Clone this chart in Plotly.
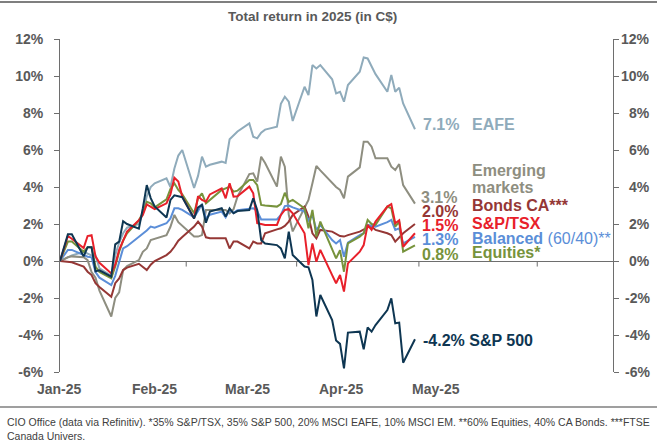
import pandas as pd
import plotly.graph_objects as go

# ---------------- data (total return %, in C$) ----------------
dates = ["2024-12-31"] + [d.strftime("%Y-%m-%d") for d in pd.bdate_range("2025-01-02", "2025-03-31")]

eafe = [0, 0.2, 0.3, 0.5, 0.4, 0.3, 0.3, -0.4, -0.8, 0.3, 1.0, 1.5, 1.8, 2.0, 2.6, 3.5, 4.0, 4.2, 4.47, 4.0, 5.0, 5.7, 6.0,
        3.95, 4.6, 5.64, 5.1, 5.2, 5.37, 5.3, 6.58, 6.8, 7.0, 7.44, 6.72, 6.63, 6.94, 7.1, 7.26, 8.5, 8.88, 8.61, 7.57,
        9.42, 8.97, 10.59, 10.41, 10.59, 9.82, 9.06, 9.15, 8.61, 9.51, 10.23, 11.0, 10.95, 10.5, 10.1, 9.15, 10.05, 9.15, 9.37, 8.52, 7.12]
em = [0, 0.2, 0.25, 0.2, 0.05, -0.6, -0.9, -1.6, -3.0, -2.0, -1.7, -0.5, -0.27, 0.05, 0.5, 0.68, 1.13, 1.2, 1.4, 1.85, 2.49, 2.1, 1.9,
      1.32, 1.32, 1.4, 2.76, 2.76, 2.8, 2.76, 2.58, 2.8, 3.48, 4.7, 4.74, 4.29, 5.64, 5.3, 4.02, 5.64, 5.1, 2.5, 1.6,
      2.9, 3.3, 4.2, 5.14, 4.9, 4.23, 4.0, 3.84, 3.39, 4.56, 5.06, 6.45, 6.45, 6.18, 5.55, 5.55, 5.1, 4.92, 5.24, 4.1, 3.1]
bonds = [0, -0.07, -0.07, -0.3, -0.58, -0.76, -1.2, -1.4, -1.93, -1.2, -0.94, -0.49, -0.36, -0.15, -0.3, -0.49, -0.2, 0.0, 0.32, 0.5, 0.77, 1.1, 1.3,
         1.86, 2.13, 1.86, 1.28, 1.23, 1.23, 1.23, 0.68, 1.05, 1.05, 0.68, 1.05, 0.95, 0.95, 1.5, 1.71, 1.77, 1.9, 2.13, 2.49,
         2.94, 2.4, 1.5, 1.23, 1.68, 1.59, 1.45, 1.35, 1.32, 1.4, 1.59, 1.7, 1.82, 1.86, 1.68, 1.5, 1.4, 1.05, 1.3, 1.5, 2.0]
balanced = [0, 0.6, 0.6, 0.3, 0.23, 0.2, -0.6, -0.9, -1.3, -0.8, -0.1, 0.68, 0.8, 1.3, 1.5, 1.65, 1.86, 1.8, 2.04, 2.3, 2.85, 2.85, 2.76,
            2.36, 2.7, 3.08, 2.3, 2.5, 2.67, 2.36, 2.76, 2.6, 2.75, 2.85, 2.85, 2.7, 2.25, 2.25, 2.25, 2.49, 2.97, 3.0, 2.9,
            2.67, 2.2, 2.49, 1.68, 1.95, 1.13, 0.95, 1.13, 0.23, 0.99, 1.4, 1.5, 1.95, 1.9, 1.86, 2.1, 2.22, 1.68, 1.77, 0.95, 1.3]
equities = [0, 1.05, 1.05, 0.5, 0.74, 0.74, -0.3, -0.6, -0.94, -0.3, 0.5, 1.1, 1.5, 2.2, 2.6, 3.2, 3.12, 2.9, 3.33, 3.9, 4.2, 3.84, 3.6,
            2.58, 3.39, 3.66, 3.12, 3.3, 3.84, 3.93, 4.02, 3.75, 3.8, 4.38, 4.38, 4.1, 3.03, 3.0, 2.94, 3.08, 3.69, 3.2, 3.3,
            2.85, 1.77, 2.76, 1.32, 2.13, 0.68, 0.14, 0.59, -0.58, 0.95, 1.32, 1.5, 2.22, 2.0, 1.95, 2.94, 2.85, 1.86, 2.13, 0.5, 0.85]
tsx = [0, 1.35, 1.2, 0.7, 1.35, 1.4, 0.25, -0.1, -0.67, -0.2, 0.6, 1.15, 1.59, 2.2, 2.49, 3.06, 2.94, 2.8, 3.12, 3.6, 4.5, 4.3, 3.48,
       2.3, 3.5, 3.3, 3.2, 3.6, 3.93, 3.39, 4.2, 3.48, 3.5, 4.02, 3.66, 2.04, 2.0, 1.95, 1.95, 2.49, 2.76, 2.8, 2.58,
       1.5, -0.22, 0.95, -0.04, 0.6, -0.76, -1.2, -0.76, -1.65, -0.13, 0.5, 0.86, 1.95, 1.68, 2.13, 2.94, 3.08, 2.04, 2.2, 0.77, 1.5]
sp500 = [0, 1.45, 1.45, 0.25, 0.75, 0.75, -0.55, -0.5, -0.85, 0.9, 1.05, 2.15, 2.0, 1.75, 2.85, 4.1, 3.4, 2.95, 2.35, 3.3, 3.55, 3.5, 3.45,
         2.3, 2.9, 3.03, 2.07, 2.67, 2.85, 2.4, 2.85, 2.58, 2.7, 2.76, 3.39, 2.76, 1.14, 0.95, 0.86, 0.68, 0.14, 1.59, 0.32,
         -0.3, -0.34, -1.03, -3.0, -1.84, -3.19, -4.3, -4.48, -5.8, -3.87, -3.82, -4.77, -3.59, -3.82, -3.46, -2.65, -2.02, -3.37, -3.33, -5.5, -4.23]

series_names = ["EAFE", "Emerging markets", "Bonds CA***", "Balanced (60/40)**", "Equities*", "S&P/TSX", "S&P 500"]
series_values = [eafe, em, bonds, balanced, equities, tsx, sp500]
series_colors = ["#8FABBB", "#8E8E80", "#953735", "#5B8ED8", "#77933C", "#E8202A", "#0E3652"]

y_ticks = [-6, -4, -2, 0, 2, 4, 6, 8, 10, 12]
y_ticktext = ["-6%", "-4%", "-2%", "0%", "2%", "4%", "6%", "8%", "10%", "12%"]
month_ticks = ["2025-02-01", "2025-03-01", "2025-04-01", "2025-05-01"]
month_labels = ["Jan-25", "Feb-25", "Mar-25", "Apr-25", "May-25"]

# ---------------- layout helpers ----------------
W, H = 657, 441
L, R, T, B = 60, 44, 39, 69
PW, PH = W - L - R, H - T - B


def pxx(px):
    return (px - L) / PW


def pxy(py):
    return (H - B - py) / PH


FONT = "Liberation Sans, Arial, sans-serif"
GREY = "#595959"
AXIS = "#6E6E6E"

fig = go.Figure()
for name, vals, col in zip(series_names, series_values, series_colors):
    fig.add_trace(go.Scatter(x=dates, y=vals, mode="lines", name=name,
                             line=dict(color=col, width=2), showlegend=False))

fig.update_layout(
    width=W, height=H,
    margin=dict(l=L, r=R, t=T, b=B, pad=0),
    paper_bgcolor="white", plot_bgcolor="white",
    xaxis=dict(type="date", range=["2024-12-31", "2025-05-20 05:00"], showgrid=False, zeroline=False,
               showline=False, showticklabels=False, ticks="", automargin=False),
    yaxis=dict(range=[-6, 12], showgrid=False,
               zeroline=True, zerolinecolor=AXIS, zerolinewidth=1,
               showline=True, linecolor=AXIS, linewidth=1, mirror="ticks",
               tickmode="array", tickvals=y_ticks, ticktext=y_ticktext,
               ticks="outside", ticklen=5, tickcolor=AXIS, ticklabelstandoff=8,
               automargin=False,
               tickfont=dict(family=FONT, size=14, color=GREY, weight="bold")),
)

# right-hand tick labels (right aligned)
for v, t in zip(y_ticks, y_ticktext):
    fig.add_annotation(text="<b>" + t + "</b>", xref="paper", yref="y", x=pxx(652), y=v,
                       xanchor="right", yanchor="middle", showarrow=False,
                       font=dict(family=FONT, size=14, color=GREY))

# month tick marks on the zero line
for d in month_ticks:
    fig.add_shape(type="line", xref="x", yref="y", x0=d, x1=d, y0=0, y1=-0.3,
                  line=dict(color=AXIS, width=1))

# month labels
for lab, px in zip(month_labels, [59, 154, 247, 341, 436]):
    fig.add_annotation(text="<b>" + lab + "</b>", xref="paper", yref="paper", x=pxx(px), y=pxy(389),
                       xanchor="center", yanchor="middle", showarrow=False,
                       font=dict(family=FONT, size=14, color=GREY))

# title
fig.add_annotation(text="<b>Total return in 2025 (in C$)</b>", xref="paper", yref="paper",
                   x=pxx(312), y=pxy(17), xanchor="center", yanchor="middle", showarrow=False,
                   font=dict(family=FONT, size=13.5, color=GREY))

# end-of-line labels
end_labels = [
    ("<b>7.1%</b>", 421, 125, "#8FABBB"), ("<b>EAFE</b>", 470, 125, "#8FABBB"),
    ("<b>Emerging</b>", 470, 170, "#8E8E80"), ("<b>markets</b>", 470, 187, "#8E8E80"),
    ("<b>3.1%</b>", 419, 197, "#8E8E80"),
    ("<b>Bonds CA***</b>", 470, 205, "#953735"), ("<b>2.0%</b>", 420, 211, "#953735"),
    ("<b>S&P/TSX</b>", 470, 223, "#E8202A"), ("<b>1.5%</b>", 420, 225, "#E8202A"),
    ("<b>Balanced</b> (60/40)**", 470, 238, "#5B8ED8"), ("<b>1.3%</b>", 420, 239, "#5B8ED8"),
    ("<b>Equities*</b>", 470, 253, "#77933C"), ("<b>0.8%</b>", 420, 254, "#77933C"),
    ("<b>-4.2% S&P 500</b>", 421, 340, "#0E3652"),
]
for text, x, y, col in end_labels:
    fig.add_annotation(text=text, xref="paper", yref="paper", x=pxx(x), y=pxy(y),
                       xanchor="left", yanchor="middle", showarrow=False,
                       font=dict(family=FONT, size=16, color=col))

# footer
fig.add_annotation(
    text="CIO Office (data via Refinitiv). *35% S&P/TSX, 35% S&P 500, 20% MSCI EAFE, 10% MSCI EM. **60% Equities, 40% CA Bonds. ***FTSE<br>Canada Univers.",
    xref="paper", yref="paper", x=pxx(5), y=pxy(414), xanchor="left", yanchor="top", align="left",
    showarrow=False, font=dict(family=FONT, size=10.5, color="#404040"))

# frame lines
fig.add_shape(type="line", xref="paper", yref="paper", x0=pxx(0), x1=pxx(W), y0=pxy(2), y1=pxy(2),
              line=dict(color="#7F7F7F", width=2))
fig.add_shape(type="line", xref="paper", yref="paper", x0=pxx(0), x1=pxx(W), y0=pxy(407), y1=pxy(407),
              line=dict(color="#7F7F7F", width=1.5))

fig.write_html("out.html", config={"displayModeBar": False},
               post_script="document.body.style.margin='0px';")
